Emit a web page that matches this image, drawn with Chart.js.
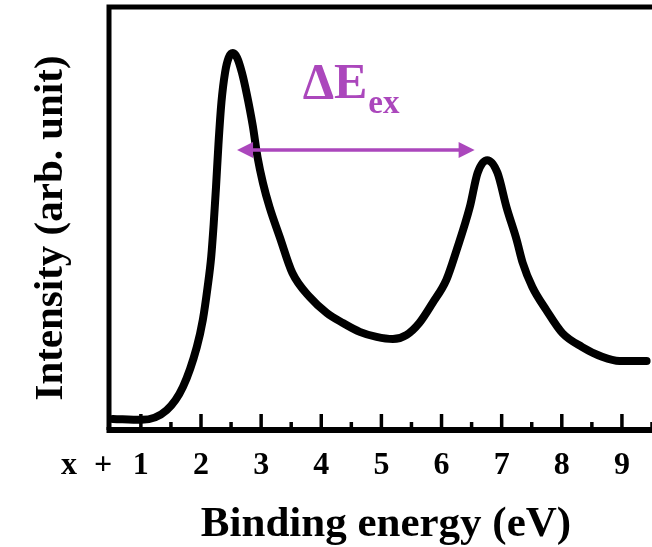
<!DOCTYPE html>
<html>
<head>
<meta charset="utf-8">
<script src="https://cdn.jsdelivr.net/npm/chart.js@4/dist/chart.umd.min.js"></script>
<style>
  html, body { margin: 0; padding: 0; background: #fff; }
  canvas { display: block; }
</style>
</head>
<body>
<canvas id="xpsChart" width="652" height="547"></canvas>
<script>
/* ================================
   DATA
================================ */
const energy = [0.535, 1.01, 1.43, 1.70, 1.93, 2.03, 2.11, 2.17, 2.21, 2.25, 2.29, 2.34, 2.40, 2.46, 2.53,
  2.60, 2.68, 2.76, 2.86, 2.94, 3.03, 3.14, 3.31, 3.52, 3.81, 4.09, 4.36, 4.64, 4.92, 5.19, 5.42, 5.63,
  5.85, 6.08, 6.25, 6.47, 6.60, 6.76, 6.93, 7.08, 7.25, 7.35, 7.51, 7.74, 8.01, 8.34, 8.67, 8.96, 9.41];
const intensity = [2.6, 2.4, 4.7, 10.2, 19.6, 26.0, 33.8, 41.0, 48.5, 57.5, 67.5, 77.5, 84.5, 88.0, 89.1,
  88.0, 84.5, 79.5, 72.0, 64.5, 58.4, 52.7, 45.6, 37.1, 31.4, 27.7, 25.3, 23.2, 22.0, 21.5, 22.5, 25.3,
  30.0, 35.5, 42.5, 52.7, 60.8, 63.8, 60.8, 52.7, 44.9, 39.5, 33.8, 28.4, 22.9, 19.6, 17.3, 16.3, 16.3];

const majorTicks = [1, 2, 3, 4, 5, 6, 7, 8, 9];
const minorTicks = [1.5, 2.5, 3.5, 4.5, 5.5, 6.5, 7.5, 8.5, 9.5];
const tickLabels = ["1", "2", "3", "4", "5", "6", "7", "8", "9"];

// peak-to-peak separation arrow (eV) and its height
const arrowFrom = 2.60;
const arrowTo = 6.55;
const arrowLevel = 66.2;

const SERIF = '"Liberation Serif", "DejaVu Serif", serif';
const PURPLE = '#AB47BC';

/* ================================
   FRAME, TICKS, LABELS
================================ */
const framePlugin = {
  id: 'frame',
  beforeDatasetsDraw(chart) {
    const { ctx, chartArea: a, scales: { x } } = chart;
    ctx.save();
    ctx.strokeStyle = '#000';
    ctx.lineCap = 'butt';

    // top + left border
    ctx.lineWidth = 5;
    ctx.beginPath();
    ctx.moveTo(a.right, a.top);
    ctx.lineTo(a.left, a.top);
    ctx.lineTo(a.left, a.bottom);
    ctx.stroke();

    // bottom axis
    ctx.lineWidth = 6;
    ctx.beginPath();
    ctx.moveTo(a.left - 2.5, a.bottom);
    ctx.lineTo(a.right, a.bottom);
    ctx.stroke();

    // inward ticks
    ctx.lineWidth = 3.5;
    majorTicks.forEach(v => {
      const px = x.getPixelForValue(v);
      ctx.beginPath();
      ctx.moveTo(px, a.bottom);
      ctx.lineTo(px, a.bottom - 16);
      ctx.stroke();
    });
    minorTicks.forEach(v => {
      const px = x.getPixelForValue(v);
      ctx.beginPath();
      ctx.moveTo(px, a.bottom);
      ctx.lineTo(px, a.bottom - 8);
      ctx.stroke();
    });

    // tick labels
    ctx.fillStyle = '#000';
    ctx.font = 'bold 32px ' + SERIF;
    ctx.textAlign = 'center';
    ctx.textBaseline = 'alphabetic';
    majorTicks.forEach((v, i) => {
      ctx.fillText(tickLabels[i], x.getPixelForValue(v), a.bottom + 44);
    });
    ctx.fillText('x', 69, a.bottom + 44);
    ctx.fillText('+', 103, a.bottom + 44);

    // axis titles
    ctx.font = 'bold 43px ' + SERIF;
    ctx.fillText('Binding energy (eV)', 386, 536);

    ctx.save();
    ctx.translate(62, 228);
    ctx.rotate(-Math.PI / 2);
    ctx.font = 'bold 41px ' + SERIF;
    ctx.fillText('Intensity (arb. unit)', 0, 0);
    ctx.restore();

    ctx.restore();
  },

  afterDatasetsDraw(chart) {
    const { ctx, scales: { x, y } } = chart;
    const x1 = x.getPixelForValue(arrowFrom);
    const x2 = x.getPixelForValue(arrowTo);
    const yy = y.getPixelForValue(arrowLevel);
    const head = 16, half = 8;

    ctx.save();
    ctx.strokeStyle = PURPLE;
    ctx.fillStyle = PURPLE;
    ctx.lineWidth = 3.5;
    ctx.beginPath();
    ctx.moveTo(x1 + head - 2, yy);
    ctx.lineTo(x2 - head + 2, yy);
    ctx.stroke();

    ctx.beginPath();
    ctx.moveTo(x1, yy);
    ctx.lineTo(x1 + head, yy - half);
    ctx.lineTo(x1 + head, yy + half);
    ctx.closePath();
    ctx.fill();

    ctx.beginPath();
    ctx.moveTo(x2, yy);
    ctx.lineTo(x2 - head, yy - half);
    ctx.lineTo(x2 - head, yy + half);
    ctx.closePath();
    ctx.fill();

    // ΔE_ex label
    const tx = x.getPixelForValue(3.69);
    const ty = y.getPixelForValue(78.5);
    ctx.textAlign = 'left';
    ctx.textBaseline = 'alphabetic';
    ctx.font = 'bold 50px ' + SERIF;
    ctx.fillText('ΔE', tx, ty);
    const w = ctx.measureText('ΔE').width;
    ctx.font = 'bold 33px ' + SERIF;
    ctx.fillText('ex', tx + w + 1, ty + 15);
    ctx.restore();
  }
};

/* ================================
   CHART
================================ */
const points = energy.map((e, i) => ({ x: e, y: intensity[i] }));

new Chart(document.getElementById('xpsChart'), {
  type: 'line',
  data: {
    datasets: [{
      data: points,
      borderColor: '#000',
      borderWidth: 8,
      borderCapStyle: 'round',
      borderJoinStyle: 'round',
      cubicInterpolationMode: 'monotone',
      pointRadius: 0,
      fill: false,
      clip: false
    }]
  },
  options: {
    responsive: false,
    animation: false,
    devicePixelRatio: 1,
    layout: { padding: { left: 109, right: 0, top: 7, bottom: 117 } },
    plugins: {
      legend: { display: false },
      tooltip: { enabled: false }
    },
    scales: {
      x: { type: 'linear', min: 0.47, max: 9.5, display: false },
      y: { min: 0, max: 100, display: false }
    }
  },
  plugins: [framePlugin]
});
</script>
</body>
</html>
